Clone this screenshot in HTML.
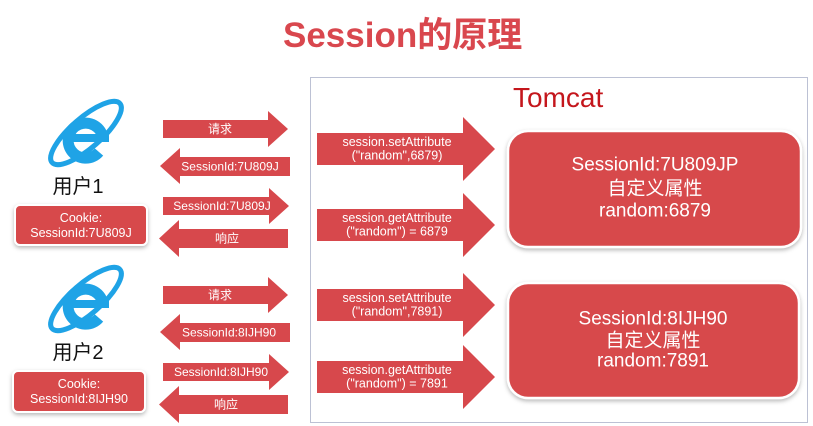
<!DOCTYPE html>
<html>
<head>
<meta charset="utf-8">
<style>
  html, body { margin: 0; padding: 0; background: #ffffff; }
  body { width: 813px; height: 426px; overflow: hidden; position: relative; }
  svg { position: absolute; left: 0; top: 0; }
  text { font-family: "Liberation Sans", "Noto Sans CJK SC", sans-serif; }
</style>
</head>
<body>
<svg width="813" height="426" viewBox="0 0 813 426" xmlns="http://www.w3.org/2000/svg">
  <defs>
    <filter id="sh" x="-10%" y="-20%" width="120%" height="150%">
      <feDropShadow dx="0" dy="2" stdDeviation="2" flood-color="#000" flood-opacity="0.28"/>
    </filter>
    <g id="ie">
      <ellipse cx="86" cy="133" rx="45" ry="15" transform="rotate(-41 86 133)" fill="none" stroke="#1fa3e6" stroke-width="5"/>
      <path d="M 103 138 A 17.5 17.5 0 1 0 99 152" fill="none" stroke="#1fa3e6" stroke-width="11"/>
      <rect x="67" y="134" width="42" height="8" fill="#1fa3e6"/>
    </g>
  </defs>

  <!-- Title -->
  <text x="283" y="47" font-size="35" font-weight="bold" fill="#d9474e">Session的原理</text>

  <!-- Tomcat container -->
  <rect x="310.5" y="77.5" width="497" height="345" fill="#ffffff" stroke="#bcc1d4" stroke-width="1"/>
  <text x="513" y="107" font-size="28" fill="#c4161c">Tomcat</text>

  <!-- IE icons -->
  <use href="#ie"/>
  <use href="#ie" transform="translate(0,166)"/>

  <!-- User labels -->
  <text x="78" y="187" font-size="20" fill="#111" text-anchor="middle" dominant-baseline="central">用户1</text>
  <text x="78" y="353" font-size="20" fill="#111" text-anchor="middle" dominant-baseline="central">用户2</text>

  <!-- Cookie boxes -->
  <rect x="15" y="205" width="132" height="40" rx="5" fill="#d7484c" stroke="#ffffff" stroke-width="2" filter="url(#sh)"/>
  <text x="81" y="218" font-size="12.5" fill="#fff" text-anchor="middle" dominant-baseline="central">Cookie:</text>
  <text x="81" y="233" font-size="12.5" fill="#fff" text-anchor="middle" dominant-baseline="central">SessionId:7U809J</text>

  <rect x="13" y="371" width="132" height="41" rx="5" fill="#d7484c" stroke="#ffffff" stroke-width="2" filter="url(#sh)"/>
  <text x="79" y="384" font-size="12.5" fill="#fff" text-anchor="middle" dominant-baseline="central">Cookie:</text>
  <text x="79" y="399" font-size="12.5" fill="#fff" text-anchor="middle" dominant-baseline="central">SessionId:8IJH90</text>

  <!-- Client arrows user 1 -->
  <polygon points="163,120 268,120 268,111 288,129 268,147 268,138 163,138" fill="#d7484c"/>
  <text x="220" y="129" font-size="12" fill="#fff" text-anchor="middle" dominant-baseline="central">请求</text>

  <polygon points="160,166 180,148 180,157 290,157 290,176 180,176 180,184" fill="#d7484c"/>
  <text x="230" y="166.5" font-size="12" fill="#fff" text-anchor="middle" dominant-baseline="central">SessionId:7U809J</text>

  <polygon points="163,197 269,197 269,188 289,206 269,224 269,215 163,215" fill="#d7484c"/>
  <text x="222" y="206" font-size="12" fill="#fff" text-anchor="middle" dominant-baseline="central">SessionId:7U809J</text>

  <polygon points="159,238.5 179,220 179,229 288,229 288,248 179,248 179,257" fill="#d7484c"/>
  <text x="227" y="238.5" font-size="12" fill="#fff" text-anchor="middle" dominant-baseline="central">响应</text>

  <!-- Client arrows user 2 -->
  <polygon points="163,286 268,286 268,277 288,295 268,313 268,304 163,304" fill="#d7484c"/>
  <text x="220" y="295" font-size="12" fill="#fff" text-anchor="middle" dominant-baseline="central">请求</text>

  <polygon points="160,332 180,314 180,323 290,323 290,342 180,342 180,350" fill="#d7484c"/>
  <text x="229" y="332.5" font-size="12" fill="#fff" text-anchor="middle" dominant-baseline="central">SessionId:8IJH90</text>

  <polygon points="163,363 269,363 269,354 289,372 269,390 269,381 163,381" fill="#d7484c"/>
  <text x="221" y="372" font-size="12" fill="#fff" text-anchor="middle" dominant-baseline="central">SessionId:8IJH90</text>

  <polygon points="159,404.5 179,386 179,395 288,395 288,414 179,414 179,423" fill="#d7484c"/>
  <text x="226" y="404.5" font-size="12" fill="#fff" text-anchor="middle" dominant-baseline="central">响应</text>

  <!-- Tomcat arrows -->
  <polygon points="317,133 463,133 463,117 495,149 463,181 463,165 317,165" fill="#d7484c"/>
  <text x="397" y="142" font-size="12.5" fill="#fff" text-anchor="middle" dominant-baseline="central">session.setAttribute</text>
  <text x="397" y="155.5" font-size="12.5" fill="#fff" text-anchor="middle" dominant-baseline="central">("random",6879)</text>

  <polygon points="317,209 463,209 463,193 495,225 463,257 463,241 317,241" fill="#d7484c"/>
  <text x="397" y="218" font-size="12.5" fill="#fff" text-anchor="middle" dominant-baseline="central">session.getAttribute</text>
  <text x="397" y="231.5" font-size="12.5" fill="#fff" text-anchor="middle" dominant-baseline="central">("random") = 6879</text>

  <polygon points="317,289 463,289 463,273 495,305 463,337 463,321 317,321" fill="#d7484c"/>
  <text x="397" y="298" font-size="12.5" fill="#fff" text-anchor="middle" dominant-baseline="central">session.setAttribute</text>
  <text x="397" y="311.5" font-size="12.5" fill="#fff" text-anchor="middle" dominant-baseline="central">("random",7891)</text>

  <polygon points="317,361 463,361 463,345 495,377 463,409 463,393 317,393" fill="#d7484c"/>
  <text x="397" y="370" font-size="12.5" fill="#fff" text-anchor="middle" dominant-baseline="central">session.getAttribute</text>
  <text x="397" y="383.5" font-size="12.5" fill="#fff" text-anchor="middle" dominant-baseline="central">("random") = 7891</text>

  <!-- Session boxes -->
  <rect x="508" y="131" width="293" height="116" rx="20" fill="#d7484c" stroke="#ffffff" stroke-width="2.5" filter="url(#sh)"/>
  <text x="655" y="165" font-size="19" fill="#fff" text-anchor="middle" dominant-baseline="central">SessionId:7U809JP</text>
  <text x="655" y="189" font-size="19" fill="#fff" text-anchor="middle" dominant-baseline="central">自定义属性</text>
  <text x="655" y="211" font-size="19" fill="#fff" text-anchor="middle" dominant-baseline="central">random:6879</text>

  <rect x="508" y="283" width="291" height="115" rx="20" fill="#d7484c" stroke="#ffffff" stroke-width="2.5" filter="url(#sh)"/>
  <text x="653" y="319" font-size="19" fill="#fff" text-anchor="middle" dominant-baseline="central">SessionId:8IJH90</text>
  <text x="653" y="341" font-size="19" fill="#fff" text-anchor="middle" dominant-baseline="central">自定义属性</text>
  <text x="653" y="361" font-size="19" fill="#fff" text-anchor="middle" dominant-baseline="central">random:7891</text>
</svg>
</body>
</html>
